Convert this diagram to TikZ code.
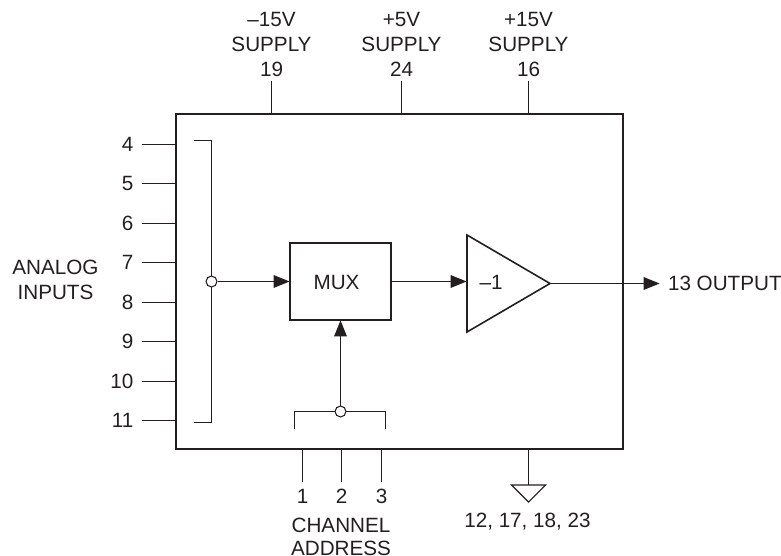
\documentclass[tikz,border=0pt]{standalone}
\usepackage{fontspec}
\setmainfont{Liberation Sans}
\usepackage{tikz}
\usetikzlibrary{arrows.meta,positioning,shapes.geometric}
\definecolor{ink}{HTML}{231F20}
\tikzset{
    wire/.style = {draw=ink,line width=0.8pt},
    signal/.style = {wire,-{Triangle[length=12pt,width=9.5pt]},shorten >=0.3pt},
    txt/.style = {text=ink,inner sep=0pt,outer sep=0pt,align=center,
        font=\fontsize{15.5}{18.6}\selectfont},
    joint/.style = {circle,draw=ink,fill=white,line width=0.8pt,inner sep=0pt,minimum size=8.2pt},
    block/.style = {draw=ink,inner sep=0pt,outer sep=0pt}
}

\begin{document}
\begin{tikzpicture}[x=0.75pt,y=-0.75pt]
            \useasboundingbox (0,0) rectangle (781,556);

            % package and mux
            \node [block,line width=1.6pt,minimum width=335.25pt,minimum height=251.25pt] (chip) at (399.5,281.5) {};
            \node [block,line width=1.2pt,minimum width=75.75pt,minimum height=57.75pt] (mux) at (340.5,281.5) {};
            \node [txt] (muxlabel) at (336.5,282) {MUX};
            \node [block,line width=1.2pt,isosceles triangle,isosceles triangle stretches,
                minimum width=72.75pt,minimum height=62.25pt,anchor=lower side] (amp) at (467,283.5) {};
            \node [txt] (amplabel) at (491,282) {–1};

            % supply pins
            \coordinate (top19) at (271.5,81);
            \coordinate (top24) at (401.5,81);
            \coordinate (top16) at (528.5,81);
            \coordinate (edge19) at (271.5,114);
            \coordinate (edge24) at (401.5,114);
            \coordinate (edge16) at (528.5,114);
            \node [txt,above=3.5pt of top19] (supply19) {–15V\\SUPPLY\\19};
            \node [txt,above=3.5pt of top24] (supply24) {+5V\\SUPPLY\\24};
            \node [txt,above=3.5pt of top16] (supply16) {+15V\\SUPPLY\\16};
            \draw [wire] (top19) -- (edge19);
            \draw [wire] (top24) -- (edge24);
            \draw [wire] (top16) -- (edge16);

            % analog input pins
            \coordinate (stub4) at (142,144.5);
            \coordinate (stub5) at (142,183.5);
            \coordinate (stub6) at (142,223.5);
            \coordinate (stub7) at (142,262.5);
            \coordinate (stub8) at (142,302.5);
            \coordinate (stub9) at (142,341.5);
            \coordinate (stub10) at (142,381.5);
            \coordinate (stub11) at (142,420.5);
            \coordinate (edge4) at (176,144.5);
            \coordinate (edge5) at (176,183.5);
            \coordinate (edge6) at (176,223.5);
            \coordinate (edge7) at (176,262.5);
            \coordinate (edge8) at (176,302.5);
            \coordinate (edge9) at (176,341.5);
            \coordinate (edge10) at (176,381.5);
            \coordinate (edge11) at (176,420.5);
            \node [txt,left=6.5pt of stub4] (pin4) {4};
            \node [txt,left=6.5pt of stub5] (pin5) {5};
            \node [txt,left=6.5pt of stub6] (pin6) {6};
            \node [txt,left=6.5pt of stub7] (pin7) {7};
            \node [txt,left=6.5pt of stub8] (pin8) {8};
            \node [txt,left=6.5pt of stub9] (pin9) {9};
            \node [txt,left=6.5pt of stub10] (pin10) {10};
            \node [txt,left=6.5pt of stub11] (pin11) {11};
            \draw [wire] (stub4) -- (edge4);
            \draw [wire] (stub5) -- (edge5);
            \draw [wire] (stub6) -- (edge6);
            \draw [wire] (stub7) -- (edge7);
            \draw [wire] (stub8) -- (edge8);
            \draw [wire] (stub9) -- (edge9);
            \draw [wire] (stub10) -- (edge10);
            \draw [wire] (stub11) -- (edge11);
            \node [txt] (analog) at (55.5,279.5) {ANALOG\\INPUTS};

            % input bus
            \coordinate (bustop) at (194,140.5);
            \coordinate (busbot) at (194,422.5);
            \coordinate (busup) at (211.5,140.5);
            \coordinate (busdown) at (211.5,422.5);
            \draw [wire] (bustop) -- (busup) -- (busdown) -- (busbot);
            \node [joint] (busjoint) at (211.5,281.5) {};
            \draw [signal] (busjoint) -- (mux);
            \draw [signal] (mux) -- (mux -| amp.lower side);

            % output
            \coordinate (outend) at (660,283.5);
            \draw [signal] (amp.apex) -- (outend);
            \node [txt,right=6pt of outend] (output) {13 OUTPUT};

            % channel address
            \coordinate (brleft) at (294.5,429);
            \coordinate (brright) at (385.5,429);
            \coordinate (brlefttop) at (294.5,411.5);
            \coordinate (brrighttop) at (385.5,411.5);
            \draw [wire] (brleft) -- (brlefttop) -- (brrighttop) -- (brright);
            \node [joint] (addrjoint) at (340.5,411.5) {};
            \draw [signal] (addrjoint) -- (mux);
            \coordinate (edge1) at (302.5,449);
            \coordinate (edge2) at (341.5,449);
            \coordinate (edge3) at (381.5,449);
            \coordinate (stub1) at (302.5,481.5);
            \coordinate (stub2) at (341.5,481.5);
            \coordinate (stub3) at (381.5,481.5);
            \draw [wire] (edge1) -- (stub1);
            \draw [wire] (edge2) -- (stub2);
            \draw [wire] (edge3) -- (stub3);
            \node [txt,below=5.5pt of stub1] (pin1) {1};
            \node [txt,below=5.5pt of stub2] (pin2) {2};
            \node [txt,below=5.5pt of stub3] (pin3) {3};
            \node [txt] (address) at (341,536.5) {CHANNEL\\[-1.5pt]ADDRESS};

            % ground
            \coordinate (edgegnd) at (528.5,449);
            \node [block,line width=0.8pt,isosceles triangle,isosceles triangle stretches,
                shape border rotate=-90,minimum width=25.5pt,minimum height=12.75pt,
                anchor=apex] (gnd) at (528.5,502) {};
            \draw [wire] (edgegnd) -- (gnd.lower side);
            \node [txt] (gndpins) at (527.5,522) {12, 17, 18, 23};
        \end{tikzpicture}
\end{document}
